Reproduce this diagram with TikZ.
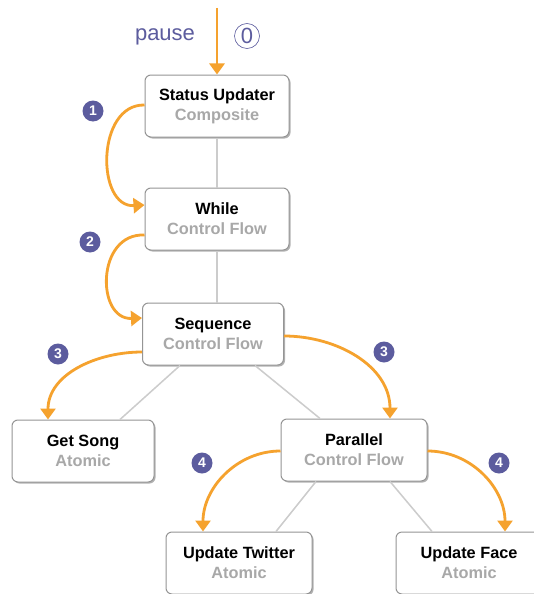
\documentclass[tikz,border=0pt]{standalone}
\usepackage{fontspec}
\setmainfont{Liberation Sans}
\usetikzlibrary{arrows.meta,shadows}
\definecolor{orng}{HTML}{F5A22E}
\definecolor{purp}{HTML}{5C5C9E}
\definecolor{bord}{HTML}{959595}
\definecolor{subc}{HTML}{A8A8A8}
\definecolor{conn}{HTML}{CCCCCC}
\begin{document}
\begin{tikzpicture}[x=1pt,y=-1pt,
  box/.style={draw=bord, line width=1pt, rounded corners=6pt, fill=white,
    minimum width=144pt, minimum height=62pt, align=center, inner sep=0pt,
    font=\fontsize{16.3}{20}\selectfont\bfseries,
    drop shadow={shadow xshift=1.5pt, shadow yshift=-1.5pt, opacity=0.3, fill=black}},
  flow/.style={draw=orng, line width=2.8pt, -{Triangle[length=11pt,width=15pt]}},
  link/.style={draw=conn, line width=1.5pt},
  badge/.style={circle, fill=purp, text=white, font=\bfseries\fontsize{14}{14}\selectfont,
    inner sep=0pt, minimum size=21pt}]
\clip (0,0) rectangle (534,594);
\fill[white] (0,0) rectangle (534,594);

% nodes
\node[box] (su)  at (217,106) {Status Updater\\\textcolor{subc}{Composite}};
\node[box] (w)   at (217,219) {While\\\textcolor{subc}{Control Flow}};
\node[box, minimum width=141pt] (seq) at (213,334) {Sequence\\\textcolor{subc}{Control Flow}};
\node[box, minimum width=142pt] (gs)  at (83,451) {Get Song\\\textcolor{subc}{Atomic}};
\node[box, minimum width=146pt] (par) at (354,450) {Parallel\\\textcolor{subc}{Control Flow}};
\node[box, minimum width=146pt] (ut)  at (239,563) {Update Twitter\\\textcolor{subc}{Atomic}};
\node[box, minimum width=146pt] (uf)  at (469,563) {Update Face\\\textcolor{subc}{Atomic}};

% tree links
\draw[link] (su.south) -- (w.north);
\draw[link] (w.south) -- (w.south |- seq.north);
\draw[link] ([xshift=-33pt]seq.south) -- ([xshift=37pt]gs.north);
\draw[link] ([xshift=42pt]seq.south) -- ([xshift=-34pt]par.north);
\draw[link] ([xshift=-38pt]par.south) -- ([xshift=37pt]ut.north);
\draw[link] ([xshift=36pt]par.south) -- ([xshift=-37pt]uf.north);

% labels
\coordinate (start) at (217,8);
\node[text=purp, font=\fontsize{22}{22}\selectfont] (pause) at (165,37) {pause};
\node[circle, draw=purp, line width=0.6pt, text=purp, inner sep=0pt, minimum size=25pt,
  font=\fontsize{22}{22}\selectfont] (zero) at (247,36) {0};

\node[badge] (b1) at (93,111) {1};
\node[badge] (b2) at (90,242) {2};
\node[badge] (b3l) at (58,354) {3};
\node[badge] (b3r) at (384,352) {3};
\node[badge] (b4l) at (202,463) {4};
\node[badge] (b4r) at (499,463) {4};

% flow arrows
\draw[flow] (start) -- (su.north);
\draw[flow] ([yshift=1pt]su.west) .. controls (96,104) and (96,208) .. ([yshift=14pt]w.west);
\draw[flow] ([yshift=-16pt]w.west) .. controls (96,233) and (96,320) .. ([yshift=16pt]seq.west);
\draw[flow] ([yshift=-18pt]seq.west) to[out=180,in=90] ([xshift=-35pt]gs.north);
\draw[flow] ([yshift=-2pt]seq.east) to[out=0,in=90] ([xshift=36pt]par.north);
\draw[flow] ([yshift=-1pt]par.west) to[out=180,in=90] ([xshift=-36pt]ut.north);
\draw[flow] ([yshift=-1pt]par.east) to[out=0,in=90] ([xshift=36pt]uf.north);
\end{tikzpicture}
\end{document}
